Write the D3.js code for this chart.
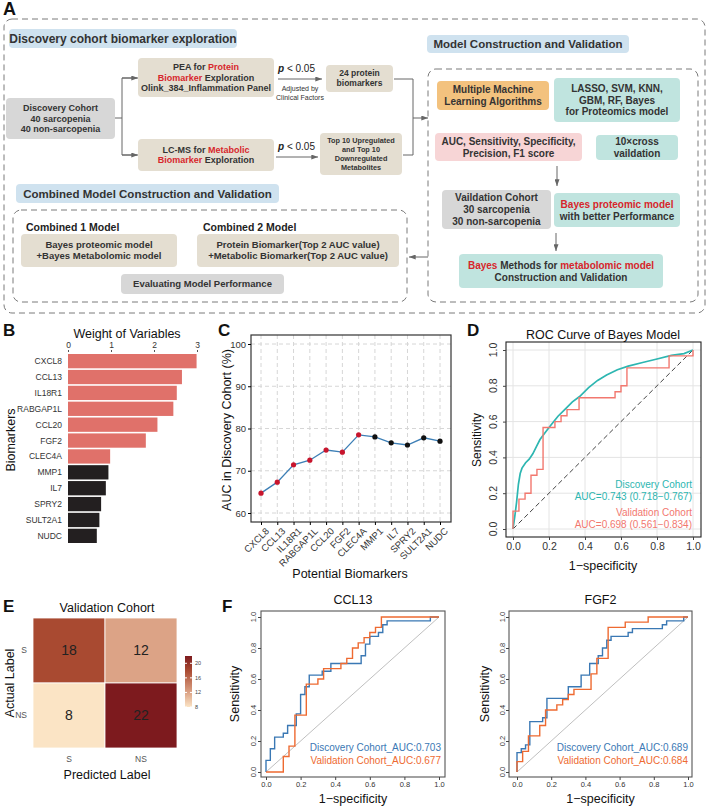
<!DOCTYPE html>
<html>
<head>
<meta charset="utf-8">
<script src="https://cdn.jsdelivr.net/npm/d3@7"></script>
<style>
  body { margin: 0; background: #fff; }
  svg { display: block; font-family: 'Liberation Sans', Arial, Helvetica, sans-serif; }
  text { white-space: pre; }
</style>
</head>
<body>
<svg id="fig" width="709" height="807"></svg>
<script>
// ---------- data ----------
const biomarkers = ['CXCL8', 'CCL13', 'IL18R1', 'RABGAP1L', 'CCL20', 'FGF2', 'CLEC4A', 'MMP1', 'IL7', 'SPRY2', 'SULT2A1', 'NUDC'];
const weights = [2.99, 2.65, 2.53, 2.45, 2.08, 1.81, 0.98, 0.94, 0.88, 0.77, 0.73, 0.67];
const aucDiscovery = [64.7, 67.3, 71.4, 72.5, 74.9, 74.4, 78.5, 78.0, 76.6, 76.1, 77.8, 77.0];
const nSelected = 7;
const weightTicks = [0, 1, 2, 3];
const aucTicks = [60, 70, 80, 90, 100];
const rocTicks = [0, 0.2, 0.4, 0.6, 0.8, 1];

const bayesDiscovery = [[0,0],[0.01,0.07],[0.02,0.15],[0.03,0.25],[0.04,0.31],[0.05,0.34],[0.07,0.37],[0.09,0.39],[0.11,0.42],[0.13,0.46],[0.15,0.5],[0.18,0.54],[0.21,0.58],[0.25,0.63],[0.29,0.67],[0.33,0.71],[0.37,0.74],[0.42,0.79],[0.47,0.83],[0.52,0.86],[0.58,0.89],[0.64,0.91],[0.72,0.93],[0.8,0.95],[0.88,0.97],[0.95,0.98],[1,1]];
const bayesValidation = [[0,0],[0,0.1],[0.033,0.1],[0.033,0.167],[0.067,0.167],[0.067,0.2],[0.1,0.2],[0.1,0.3],[0.133,0.3],[0.133,0.333],[0.167,0.333],[0.167,0.567],[0.233,0.567],[0.233,0.6],[0.267,0.6],[0.267,0.633],[0.3,0.633],[0.3,0.667],[0.367,0.667],[0.367,0.733],[0.567,0.733],[0.567,0.767],[0.6,0.767],[0.6,0.8],[0.633,0.8],[0.633,0.9],[0.867,0.9],[0.867,0.967],[1,0.967],[1,1]];
const bayesLegend = ['Discovery Cohort', 'AUC=0.743 (0.718\u22120.767)', 'Validation Cohort', 'AUC=0.698 (0.561\u22120.834)'];

const cmLabels = ['S', 'NS'];
const cmCounts = [[18, 12], [8, 22]];
const cmLegendTicks = [8, 12, 16, 20];

const ccl13Discovery = [[0,0],[0,0.075],[0.025,0.075],[0.025,0.15],[0.05,0.15],[0.05,0.225],[0.1,0.225],[0.1,0.25],[0.125,0.25],[0.125,0.3],[0.175,0.3],[0.175,0.375],[0.2,0.375],[0.2,0.5],[0.225,0.5],[0.225,0.55],[0.25,0.55],[0.25,0.625],[0.325,0.625],[0.325,0.65],[0.375,0.65],[0.375,0.7],[0.55,0.7],[0.55,0.75],[0.575,0.75],[0.575,0.825],[0.6,0.825],[0.6,0.875],[0.65,0.875],[0.65,0.9],[0.675,0.9],[0.675,0.95],[0.7,0.95],[0.7,0.975],[0.95,0.975],[0.95,1],[1,1]];
const ccl13Validation = [[0,0],[0.1,0],[0.1,0.1],[0.133,0.1],[0.133,0.167],[0.167,0.167],[0.167,0.367],[0.233,0.367],[0.233,0.567],[0.3,0.567],[0.3,0.6],[0.333,0.6],[0.333,0.667],[0.433,0.667],[0.433,0.7],[0.467,0.7],[0.467,0.733],[0.5,0.733],[0.5,0.8],[0.533,0.8],[0.533,0.833],[0.567,0.833],[0.567,0.867],[0.6,0.867],[0.6,0.9],[0.633,0.9],[0.633,0.933],[0.667,0.933],[0.667,1],[1,1]];
const fgf2Discovery = [[0,0],[0,0.125],[0.025,0.125],[0.025,0.15],[0.05,0.15],[0.05,0.175],[0.075,0.175],[0.075,0.325],[0.15,0.325],[0.15,0.35],[0.175,0.35],[0.175,0.475],[0.3,0.475],[0.3,0.55],[0.375,0.55],[0.375,0.625],[0.425,0.625],[0.425,0.7],[0.475,0.7],[0.475,0.75],[0.5,0.75],[0.5,0.8],[0.525,0.8],[0.525,0.85],[0.55,0.85],[0.55,0.875],[0.65,0.875],[0.65,0.9],[0.675,0.9],[0.675,0.925],[0.85,0.925],[0.85,0.95],[0.875,0.95],[0.875,0.975],[0.975,0.975],[0.975,1],[1,1]];
const fgf2Validation = [[0,0],[0,0.067],[0.033,0.067],[0.033,0.133],[0.067,0.133],[0.067,0.233],[0.133,0.233],[0.133,0.3],[0.167,0.3],[0.167,0.4],[0.233,0.4],[0.233,0.433],[0.267,0.433],[0.267,0.467],[0.3,0.467],[0.3,0.5],[0.333,0.5],[0.333,0.533],[0.433,0.533],[0.433,0.633],[0.467,0.633],[0.467,0.733],[0.533,0.733],[0.533,0.933],[0.633,0.933],[0.633,0.967],[0.767,0.967],[0.767,1],[1,1]];
const ccl13Legend = ['Discovery Cohort_AUC:0.703', 'Validation Cohort_AUC:0.677'];
const fgf2Legend = ['Discovery Cohort_AUC:0.689', 'Validation Cohort_AUC:0.684'];

// ---------- setup ----------
const RED = '#d7262b', TXT = '#333';
const svg = d3.select('#fig');
svg.append('rect').attr('width', 709).attr('height', 807).attr('fill', '#fff');
const defs = svg.append('defs');
defs.append('marker').attr('id', 'arr')
  .attr('viewBox', '0 0 8 6').attr('refX', 8).attr('refY', 3)
  .attr('markerWidth', 7).attr('markerHeight', 5)
  .attr('markerUnits', 'userSpaceOnUse').attr('orient', 'auto')
  .append('path').attr('d', 'M0,0L8,3L0,6Z').attr('fill', '#666');

function label(t, x, y, opt = {}) {
  const el = svg.append('text').attr('x', x).attr('y', y)
    .attr('font-size', opt.fs || 12).attr('fill', opt.fill || '#111')
    .attr('text-anchor', opt.anchor || 'start')
    .attr('font-weight', opt.bold ? 'bold' : null)
    .text(t);
  if (opt.rot) el.attr('transform', `rotate(${opt.rot},${x},${y})`);
  return el;
}

// ---------- panel A ----------
const gA = svg.append('g');

function dashed(x, y, w, h) {
  gA.append('rect').attr('x', x).attr('y', y).attr('width', w).attr('height', h).attr('rx', 8)
    .attr('fill', 'none').attr('stroke', '#7a7a7a').attr('stroke-width', 1).attr('stroke-dasharray', '6,4');
}

function box(x, y, w, h, fill, lines, fs, lh) {
  gA.append('rect').attr('x', x).attr('y', y).attr('width', w).attr('height', h).attr('rx', 4).attr('fill', fill);
  const n = lines.length, cy = y + h / 2;
  lines.forEach((ln, i) => {
    const t = gA.append('text').attr('x', x + w / 2).attr('y', cy + (i - (n - 1) / 2) * lh)
      .attr('dy', '0.35em').attr('text-anchor', 'middle').attr('font-size', fs).attr('font-weight', 'bold');
    (Array.isArray(ln) ? ln : [ln]).forEach(seg => {
      const red = seg.startsWith('*');
      t.append('tspan').attr('fill', red ? RED : TXT).text(red ? seg.slice(1) : seg);
    });
  });
}

function arrow(pts, head = true) {
  gA.append('path').attr('d', d3.line()(pts)).attr('fill', 'none')
    .attr('stroke', '#666').attr('stroke-width', 1)
    .attr('marker-end', head ? 'url(#arr)' : null);
}

const BLUE = '#cfe2ef', TAN = '#e4ded1', GREY = '#d7d7d7', ORANGE = '#f3c27e', TEAL = '#c0e4df', PINK = '#f7d5d6';

label('A', 3, 15, { fs: 18, bold: true });
dashed(4, 19, 701, 294);
dashed(428, 69, 270, 233);
dashed(13, 210, 394, 92);

box(9, 29, 228, 19, BLUE, ['Discovery cohort biomarker exploration'], 12, 0);
box(427, 35, 202, 18, BLUE, ['Model Construction and Validation'], 11.5, 0);
box(16, 184, 263, 19, BLUE, ['Combined Model Construction and Validation'], 11.5, 0);

box(6, 98, 109, 41, GREY, ['Discovery Cohort', '40 sarcopenia', '40 non-sarcopenia'], 9, 10.5);
box(138, 58, 136, 39, TAN, [['PEA for ', '*Protein'], ['*Biomarker', ' Exploration'], 'Olink_384_Inflammation Panel'], 9, 10.5);
box(138, 139, 136, 32, TAN, [['LC-MS for ', '*Metabolic'], ['*Biomarker', ' Exploration']], 9, 10.5);
box(326, 65, 67, 27, TAN, ['24 protein', 'biomarkers'], 8.5, 10);
box(320, 133, 82, 42, TAN, ['Top 10 Upregulated', 'and Top 10', 'Downregulated', 'Metabolites'], 7.3, 9);

box(437, 81, 112, 29, ORANGE, ['Multiple Machine', 'Learning Algorithms'], 10, 12);
box(554, 78, 126, 44, TEAL, ['LASSO, SVM, KNN,', 'GBM, RF, Bayes', 'for Proteomics model'], 10, 11.5);
box(435, 133, 147, 28, PINK, ['AUC, Sensitivity, Specificity,', 'Precision, F1 score'], 10, 12);
box(596, 135, 82, 25, TEAL, ['10\u00d7cross', 'vaildation'], 10, 12);
box(442, 190, 109, 39, GREY, ['Vaildation Cohort', '30 sarcopenia', '30 non-sarcopenia'], 10, 12);
box(554, 193, 126, 34, TEAL, [['*Bayes proteomic model'], 'with better Performance'], 10, 12);
box(459, 254, 204, 34, TEAL, [['*Bayes', ' Methods for ', '*metabolomic model'], 'Construction and Validation'], 10, 12);

label('Combined 1 Model', 26, 231, { fs: 10.5, bold: true, fill: '#222' });
label('Combined 2 Model', 203, 231, { fs: 10.5, bold: true, fill: '#222' });
box(21, 234, 156, 33, TAN, ['Bayes proteomic model', '+Bayes Metabolomic model'], 9.5, 11);
box(197, 234, 202, 33, TAN, ['Protein Biomarker(Top 2 AUC value)', '+Metabolic Biomarker(Top 2 AUC value)'], 9.5, 11);
box(121, 274, 163, 20, GREY, ['Evaluating Model Performance'], 9.5, 0);

// p-value labels
[[278, 72], [278, 150]].forEach(([x, y]) => {
  const t = gA.append('text').attr('x', x).attr('y', y).attr('font-size', 10).attr('fill', '#222');
  t.append('tspan').attr('font-weight', 'bold').attr('font-style', 'italic').text('p');
  t.append('tspan').text(' < 0.05');
});
label('Adjusted by', 300, 91, { fs: 7, anchor: 'middle', fill: '#333' });
label('Clinical Factors', 300, 100, { fs: 7, anchor: 'middle', fill: '#333' });

// connectors
arrow([[115, 118], [122, 118]], false);
arrow([[137, 78], [122, 78], [122, 155], [137, 155]], false);
arrow([[122, 78], [138, 78]]);
arrow([[122, 155], [138, 155]]);
arrow([[278, 79], [322, 79]]);
arrow([[276, 157], [318, 157]]);
arrow([[394, 79], [413, 79], [413, 155], [403, 155]], false);
arrow([[413, 118], [428, 118]]);
arrow([[557, 166], [557, 186]]);
arrow([[556, 233], [556, 251]]);
arrow([[428, 257], [409, 257]]);

// ---------- panel B ----------
label('B', 3, 336, { fs: 17, bold: true });
const xB = d3.scaleLinear().domain([0, 3]).range([68, 197]);
const yB = d3.scaleBand().domain(biomarkers).range([354, 543]).paddingInner(0.1);
svg.append('g').selectAll('rect').data(biomarkers).join('rect')
  .attr('x', xB(0)).attr('y', d => yB(d))
  .attr('width', (d, i) => xB(weights[i]) - xB(0)).attr('height', yB.bandwidth())
  .attr('fill', (d, i) => i < nSelected ? '#e0716a' : '#231f20');
const axB = svg.append('g').attr('transform', 'translate(0,352)')
  .call(d3.axisTop(xB).tickValues(weightTicks).tickFormat(d3.format('d')).tickSize(2).tickPadding(2));
axB.select('.domain').remove();
axB.selectAll('line').attr('stroke', '#555');
axB.selectAll('text').attr('font-size', 8.5).attr('fill', '#333').attr('font-family', null);
svg.append('g').selectAll('text').data(biomarkers).join('text')
  .attr('x', 62).attr('y', d => yB(d) + yB.bandwidth() / 2).attr('dy', '0.35em')
  .attr('text-anchor', 'end').attr('font-size', 8.5).attr('fill', '#333').text(d => d);
label('Weight of Variables', 127, 338, { fs: 12.5, anchor: 'middle' });
label('Biomarkers', 15, 440, { fs: 12.5, anchor: 'middle', rot: -90 });

// ---------- panel C ----------
label('C', 218, 336, { fs: 17, bold: true });
const xC = d3.scalePoint().domain(biomarkers).range([261, 440]);
const yC = d3.scaleLinear().domain([60, 100]).range([513, 344]);
const gC = svg.append('g');
gC.selectAll('.hg').data(aucTicks).join('line')
  .attr('x1', 251).attr('x2', 451).attr('y1', d => yC(d)).attr('y2', d => yC(d))
  .attr('stroke', '#d6d6d6').attr('stroke-dasharray', '4,3');
gC.selectAll('.vg').data(biomarkers).join('line')
  .attr('x1', d => xC(d)).attr('x2', d => xC(d)).attr('y1', 335).attr('y2', 522)
  .attr('stroke', '#d6d6d6').attr('stroke-dasharray', '4,3');
gC.append('rect').attr('x', 251).attr('y', 335).attr('width', 200).attr('height', 187)
  .attr('fill', 'none').attr('stroke', '#333').attr('stroke-width', 1.2);
gC.append('path').datum(aucDiscovery)
  .attr('d', d3.line().x((d, i) => xC(biomarkers[i])).y(d => yC(d)))
  .attr('fill', 'none').attr('stroke', '#3d7fb6').attr('stroke-width', 1.3);
gC.selectAll('circle').data(aucDiscovery).join('circle')
  .attr('cx', (d, i) => xC(biomarkers[i])).attr('cy', d => yC(d)).attr('r', 2.6)
  .attr('fill', (d, i) => i < nSelected ? '#c8152d' : '#111');
const axCy = gC.append('g').attr('transform', 'translate(251,0)')
  .call(d3.axisLeft(yC).tickValues(aucTicks).tickSize(3).tickPadding(2));
axCy.select('.domain').remove();
axCy.selectAll('text').attr('font-size', 9.5).attr('fill', '#333').attr('font-family', null);
const axCx = gC.append('g').attr('transform', 'translate(0,522)')
  .call(d3.axisBottom(xC).tickSize(3).tickFormat(''));
axCx.select('.domain').remove();
gC.selectAll('.xl').data(biomarkers).join('text')
  .attr('transform', d => `translate(${xC(d) + 4},527) rotate(-45)`)
  .attr('dy', '0.7em').attr('text-anchor', 'end').attr('font-size', 9.5).attr('fill', '#333').text(d => d);
label('AUC in Discovery Cohort (%)', 231, 430, { fs: 12.5, anchor: 'middle', rot: -90 });
label('Potential Biomarkers', 350, 578, { fs: 12.5, anchor: 'middle' });

// ---------- ROC helper ----------
function rocFrame(o) {
  const g = svg.append('g');
  const x = d3.scaleLinear().domain([0, 1]).range([o.x0, o.x1]);
  const y = d3.scaleLinear().domain([0, 1]).range([o.y0, o.y1]);
  if (o.grid) {
    g.selectAll('.gx').data(rocTicks).join('line')
      .attr('x1', d => x(d)).attr('x2', d => x(d)).attr('y1', o.fy).attr('y2', o.fy + o.fh)
      .attr('stroke', '#e4e4e4');
    g.selectAll('.gy').data(rocTicks).join('line')
      .attr('y1', d => y(d)).attr('y2', d => y(d)).attr('x1', o.fx).attr('x2', o.fx + o.fw)
      .attr('stroke', '#e4e4e4');
  }
  g.append('line').attr('x1', x(0)).attr('y1', y(0)).attr('x2', x(1)).attr('y2', y(1))
    .attr('stroke', o.diagColor).attr('stroke-width', o.diagWidth)
    .attr('stroke-dasharray', o.diagDash || null);
  const line = d3.line().x(d => x(d[0])).y(d => y(d[1]));
  o.series.forEach(s => {
    g.append('path').datum(s.data).attr('d', line).attr('fill', 'none')
      .attr('stroke', s.color).attr('stroke-width', s.width || 1.4);
  });
  g.append('rect').attr('x', o.fx).attr('y', o.fy).attr('width', o.fw).attr('height', o.fh)
    .attr('fill', 'none').attr('stroke', o.frame).attr('stroke-width', 1.1);
  const ax = g.append('g').attr('transform', `translate(0,${o.fy + o.fh})`)
    .call(d3.axisBottom(x).tickValues(rocTicks).tickFormat(d3.format('.1f')).tickSize(3).tickPadding(o.xpad));
  ax.select('.domain').remove();
  ax.selectAll('line').attr('stroke', '#444');
  ax.selectAll('text').attr('font-size', o.tfs).attr('fill', '#333').attr('font-family', null);
  const ay = g.append('g').attr('transform', `translate(${o.fx},0)`)
    .call(d3.axisLeft(y).tickValues(rocTicks).tickSize(3).tickFormat(''));
  ay.select('.domain').remove();
  ay.selectAll('line').attr('stroke', '#444');
  g.selectAll('.yl').data(rocTicks).join('text')
    .attr('transform', d => `translate(${o.ylx},${y(d)}) rotate(-90)`)
    .attr('text-anchor', 'middle').attr('font-size', o.tfs).attr('fill', '#333')
    .text(d3.format('.1f'));
  return { x, y, g };
}

// ---------- panel D ----------
label('D', 467, 336, { fs: 17, bold: true });
rocFrame({
  x0: 513, x1: 693, y0: 529, y1: 350, fx: 506, fy: 342, fw: 195, fh: 195,
  grid: true, diagColor: '#444', diagWidth: 1, diagDash: '5,3', frame: '#222',
  tfs: 10.5, xpad: 3, ylx: 497,
  series: [
    { data: bayesDiscovery, color: '#2db6b1', width: 1.7 },
    { data: bayesValidation, color: '#f2786f', width: 1.4 }
  ]
});
label('ROC Curve of Bayes Model', 603, 339, { fs: 12.5, anchor: 'middle' });
label('Sensitivity', 481, 440, { fs: 12, anchor: 'middle', rot: -90 });
label('1\u2212specificity', 603, 570, { fs: 12.5, anchor: 'middle' });
bayesLegend.forEach((t, i) => {
  label(t, 692, [488, 500, 516, 528][i], { fs: 10, anchor: 'end', fill: i < 2 ? '#2db6b1' : '#f2786f' });
});

// ---------- panel E ----------
label('E', 3, 612, { fs: 17, bold: true });
const xE = d3.scaleBand().domain(cmLabels).range([33, 177]);
const yE = d3.scaleBand().domain(cmLabels).range([618, 748]);
const colE = d3.scaleLinear().domain([8, 12, 18, 22]).range(['#fbe4c5', '#dca386', '#a94a31', '#7d1a1e']);
const cells = [];
cmLabels.forEach((a, i) => cmLabels.forEach((p, j) => cells.push({ a, p, v: cmCounts[i][j] })));
const gE = svg.append('g');
gE.selectAll('rect').data(cells).join('rect')
  .attr('x', d => xE(d.p)).attr('y', d => yE(d.a)).attr('width', xE.bandwidth()).attr('height', yE.bandwidth())
  .attr('fill', d => colE(d.v)).attr('stroke', '#fff').attr('stroke-width', 0.8);
gE.selectAll('.num').data(cells).join('text')
  .attr('x', d => xE(d.p) + xE.bandwidth() / 2).attr('y', d => yE(d.a) + yE.bandwidth() / 2)
  .attr('dy', '0.35em').attr('text-anchor', 'middle').attr('font-size', 14).attr('fill', '#222')
  .text(d => d.v);
gE.selectAll('.rl').data(cmLabels).join('text')
  .attr('x', 27).attr('y', d => yE(d) + yE.bandwidth() / 2).attr('dy', '0.35em')
  .attr('text-anchor', 'end').attr('font-size', 8.5).attr('fill', '#555').text(d => d);
gE.selectAll('.cl').data(cmLabels).join('text')
  .attr('x', d => xE(d) + xE.bandwidth() / 2).attr('y', 762)
  .attr('text-anchor', 'middle').attr('font-size', 8.5).attr('fill', '#555').text(d => d);
label('Validation Cohort', 107, 612, { fs: 12.5, anchor: 'middle' });
label('Predicted Label', 107, 779, { fs: 12.5, anchor: 'middle' });
label('Actual Label', 14, 683, { fs: 12.5, anchor: 'middle', rot: -90 });
// colour bar
const grad = defs.append('linearGradient').attr('id', 'cmgrad').attr('x1', 0).attr('y1', 1).attr('x2', 0).attr('y2', 0);
d3.range(0, 1.01, 0.1).forEach(t => {
  grad.append('stop').attr('offset', t).attr('stop-color', colE(8 + t * 14));
});
const yLeg = d3.scaleLinear().domain([8, 22]).range([707, 656]);
gE.append('rect').attr('x', 185).attr('y', yLeg(22)).attr('width', 7).attr('height', yLeg(8) - yLeg(22))
  .attr('fill', 'url(#cmgrad)');
gE.selectAll('.lt').data(cmLegendTicks).join('line')
  .attr('x1', 185).attr('x2', 187).attr('y1', d => yLeg(d)).attr('y2', d => yLeg(d)).attr('stroke', '#fff');
gE.selectAll('.lt2').data(cmLegendTicks).join('line')
  .attr('x1', 190).attr('x2', 192).attr('y1', d => yLeg(d)).attr('y2', d => yLeg(d)).attr('stroke', '#fff');
gE.selectAll('.ll').data(cmLegendTicks).join('text')
  .attr('x', 195).attr('y', d => yLeg(d)).attr('dy', '0.35em').attr('font-size', 5.5).attr('fill', '#444')
  .text(d => d);

// ---------- panel F ----------
label('F', 222, 612, { fs: 17, bold: true });
const fPanels = [
  { title: 'CCL13', disc: ccl13Discovery, val: ccl13Validation, legend: ccl13Legend,
    x0: 266, x1: 439, fx: 261, fw: 184, ylx: 256, sx: 239 },
  { title: 'FGF2', disc: fgf2Discovery, val: fgf2Validation, legend: fgf2Legend,
    x0: 517, x1: 688, fx: 509, fw: 183, ylx: 505, sx: 489 }
];
fPanels.forEach(p => {
  rocFrame({
    x0: p.x0, x1: p.x1, y0: 772, y1: 617, fx: p.fx, fy: 611, fw: p.fw, fh: 166,
    grid: false, diagColor: '#b8b8b8', diagWidth: 0.9, frame: '#555',
    tfs: 7.5, xpad: 2, ylx: p.ylx,
    series: [
      { data: p.disc, color: '#3a78b4', width: 1.4 },
      { data: p.val, color: '#ee6a31', width: 1.4 }
    ]
  });
  const cx = p.fx + p.fw / 2;
  label(p.title, cx, 604, { fs: 12.5, anchor: 'middle' });
  label('Sensitivity', p.sx, 694, { fs: 12.5, anchor: 'middle', rot: -90 });
  label('1\u2212specificity', cx, 803, { fs: 12.5, anchor: 'middle' });
  label(p.legend[0], p.fx + p.fw - 4, 751, { fs: 10, anchor: 'end', fill: '#3a78b4' });
  label(p.legend[1], p.fx + p.fw - 4, 764, { fs: 10, anchor: 'end', fill: '#ee6a31' });
});
</script>
</body>
</html>
